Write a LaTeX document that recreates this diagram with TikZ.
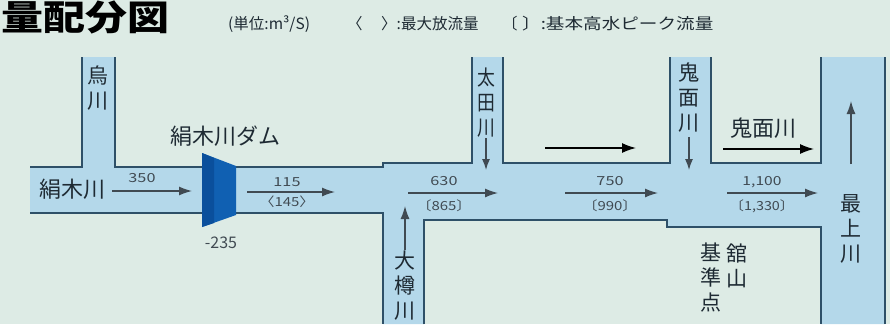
\documentclass[tikz,border=0pt]{standalone}
\usepackage{fontspec}
\usepackage{graphicx}
\usetikzlibrary{arrows.meta}
\newfontfamily\jp{Noto Sans CJK JP}
\definecolor{bg}{HTML}{DDEBE5}
\definecolor{water}{HTML}{B4D8EA}
\definecolor{bank}{HTML}{2E5068}
\definecolor{damc}{HTML}{1060B2}
\definecolor{damd}{HTML}{0A4F9C}
\definecolor{ink}{HTML}{1E2A33}
\newcommand\wtx[2]{\scalebox{#1}[1]{#2}}
\begin{document}
\begin{tikzpicture}[x=1pt,y=-1pt,
  bankline/.style={draw=bank,line width=1.6pt,line join=miter},
  flow/.style={draw=ink!85,line width=1.3pt,-{Latex[length=13pt,width=9pt]}},
  bgflow/.style={draw=black,line width=1.3pt,-{Latex[length=14pt,width=10pt]}},
  lab/.style={font=\jp\fontsize{22}{24}\selectfont,text=ink,inner sep=0pt},
  vl/.style={font=\jp\fontsize{21}{25}\selectfont,text=ink,inner sep=0pt,align=center},
  num/.style={font=\jp\fontsize{12.5}{14}\selectfont,text=ink!85,inner sep=0pt},
  leg/.style={font=\jp\fontsize{15.5}{17}\selectfont,text=ink,inner sep=0pt,anchor=base west}]
\fill[bg] (0,0) rectangle (890,324);
\useasboundingbox (0,0) rectangle (890,324);
% river water
\fill[water] (30,167) -- (82,167) -- (82,57) -- (115,57) -- (115,167) -- (383,167) -- (383,163)
  -- (472,163) -- (472,57) -- (503,57) -- (503,163) -- (670,163) -- (670,57) -- (711,57)
  -- (711,163) -- (821,163) -- (821,57) -- (885,57) -- (885,324) -- (821,324) -- (821,227)
  -- (667,227) -- (667,220) -- (424,220) -- (424,324) -- (383,324) -- (383,213) -- (30,213) -- cycle;
% banks
\draw[bankline] (30,167) -- (82,167) -- (82,57);
\draw[bankline] (115,57) -- (115,167) -- (383,167) -- (383,163) -- (472,163) -- (472,57);
\draw[bankline] (503,57) -- (503,163) -- (670,163) -- (670,57);
\draw[bankline] (711,57) -- (711,163) -- (821,163) -- (821,57);
\draw[bankline] (885,57) -- (885,324);
\draw[bankline] (30,213) -- (383,213) -- (383,324);
\draw[bankline] (424,324) -- (424,220) -- (667,220) -- (667,227) -- (821,227) -- (821,324);
% dam
\fill[damc] (202,153) -- (236,166) -- (236,215) -- (202,227) -- cycle;
\fill[damd] (202,153) -- (214,158) -- (214,223) -- (202,227) -- cycle;
% title and legend
\node[anchor=base west,inner sep=0pt,font=\jp\bfseries\fontsize{35}{35}\selectfont,text=black] (title) at (1,30) {\wtx{1.2}{量配分図}};
\node[leg] (leg1) at (228,29) {(単位:m³/S)};
\node[leg] (leg2) at (347,29) {〈};
\node[leg] (leg3) at (381,29) {〉:最大放流量};
\node[leg] (leg4) at (502,29) {〔};
\node[leg] (leg5) at (522,29) {\wtx{1.2}{〕:基本高水ピーク流量}};
% labels
\node[vl] (karasu) at (98,88) {烏\\川};
\node[vl] (ota) at (486,103) {\wtx{0.85}{太}\\\wtx{0.85}{田}\\\wtx{0.85}{川}};
\node[vl] (kimen) at (689,98) {鬼\\面\\川};
\node[vl] (otaru) at (405,286) {大\\樽\\川};
\node[vl] (mogami) at (851,229) {最\\上\\川};
\node[vl] (tate) at (737,266) {舘\\山};
\node[vl] (kijun) at (711,278) {基\\準\\点};
\node[lab] (damname) at (225,136) {絹木川ダム};
\node[lab] (kinu) at (72,189) {絹木川};
\node[lab] (kimenh) at (763,128) {鬼面川};
% flow numbers
\node[num] (n350) at (142,178) {\wtx{1.3}{350}};
\node[num] (n115) at (287,182) {\wtx{1.3}{115}};
\node[num] (n145) at (287,202) {\wtx{1.2}{〈145〉}};
\node[num] (n630) at (444,181) {\wtx{1.3}{630}};
\node[num] (n865) at (444,206) {\wtx{1.2}{〔865〕}};
\node[num] (n750) at (610,181) {\wtx{1.3}{750}};
\node[num] (n990) at (610,206) {\wtx{1.2}{〔990〕}};
\node[num] (n1100) at (762,182) {\wtx{1.25}{1,100}};
\node[num] (n1330) at (762,206) {\wtx{1.15}{〔1,330〕}};
\node[num,font=\jp\fontsize{16}{18}\selectfont] (n235) at (221,243) {-235};
% arrow end points
\coordinate (a1s) at (112,191); \coordinate (a1e) at (192,191);
\coordinate (a2s) at (247,192); \coordinate (a2e) at (335,192);
\coordinate (a3s) at (408,193); \coordinate (a3e) at (498,193);
\coordinate (a4s) at (565,193); \coordinate (a4e) at (658,193);
\coordinate (a5s) at (727,193); \coordinate (a5e) at (818,193);
\coordinate (b1s) at (545,148); \coordinate (b1e) at (636,148);
\coordinate (b2s) at (723,149); \coordinate (b2e) at (814,149);
\coordinate (t1s) at (486,138); \coordinate (t1e) at (486,170);
\coordinate (t2s) at (689,137); \coordinate (t2e) at (689,170);
\coordinate (t3s) at (405,250); \coordinate (t3e) at (405,206);
\coordinate (t4s) at (851,164); \coordinate (t4e) at (851,101);
\draw[flow] (a1s) -- (a1e);
\draw[flow] (a2s) -- (a2e);
\draw[flow] (a3s) -- (a3e);
\draw[flow] (a4s) -- (a4e);
\draw[flow] (a5s) -- (a5e);
\draw[bgflow] (b1s) -- (b1e);
\draw[bgflow] (b2s) -- (b2e);
\draw[flow,-{Latex[length=11pt,width=8pt]}] (t1s) -- (t1e);
\draw[flow,-{Latex[length=11pt,width=8pt]}] (t2s) -- (t2e);
\draw[flow] (t3s) -- (t3e);
\draw[flow] (t4s) -- (t4e);
\end{tikzpicture}
\end{document}
